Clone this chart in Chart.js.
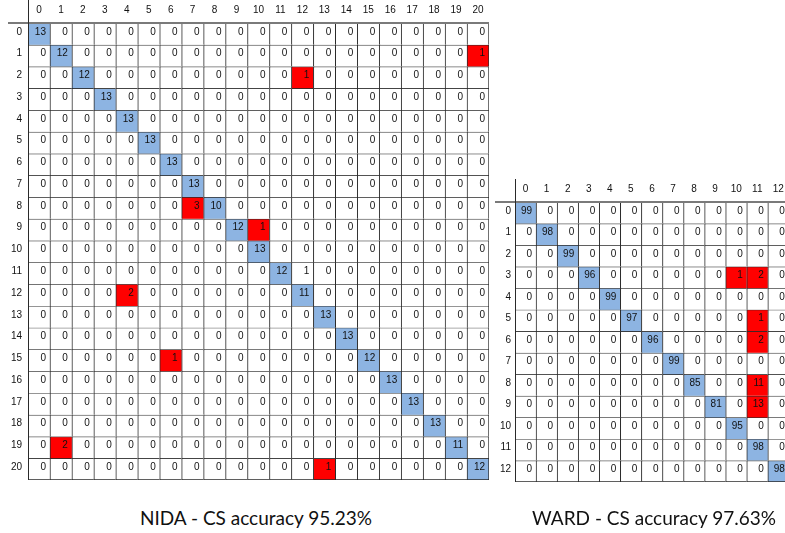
<!DOCTYPE html>
<html>
<head>
<meta charset="utf-8">
<script src="https://cdn.jsdelivr.net/npm/chart.js@4.4.0/dist/chart.umd.min.js"></script>
<style>
  html, body { margin: 0; padding: 0; background: #fff; overflow: hidden; }
  body { width: 785px; height: 533px; position: relative; }
  canvas { position: absolute; }
  #nida { left: 0; top: 0; }
  #ward { left: 490px; top: 179px; }
  .caption {
    position: absolute; font-family: Lato, sans-serif; font-size: 19px;
    line-height: 19px; color: #111; white-space: nowrap; text-align: center;
  }
</style>
</head>
<body>
<canvas id="nida" width="491" height="492"></canvas>
<canvas id="ward" width="301" height="313"></canvas>
<div class="caption" style="left: 106px; top: 508px; width: 300px;">NIDA - CS accuracy 95.23%</div>
<div class="caption" style="left: 504px; top: 508px; width: 300px;">WARD - CS accuracy 97.63%</div>
<script>
// class labels
var nidaLabels = ['0','1','2','3','4','5','6','7','8','9','10','11','12','13','14','15','16','17','18','19','20'];
var wardLabels = ['0','1','2','3','4','5','6','7','8','9','10','11','12'];

// confusion matrices, one row per true class
var nidaMatrix = [
  [13,0,0,0,0,0,0,0,0,0,0,0,0,0,0,0,0,0,0,0,0],
  [0,12,0,0,0,0,0,0,0,0,0,0,0,0,0,0,0,0,0,0,1],
  [0,0,12,0,0,0,0,0,0,0,0,0,1,0,0,0,0,0,0,0,0],
  [0,0,0,13,0,0,0,0,0,0,0,0,0,0,0,0,0,0,0,0,0],
  [0,0,0,0,13,0,0,0,0,0,0,0,0,0,0,0,0,0,0,0,0],
  [0,0,0,0,0,13,0,0,0,0,0,0,0,0,0,0,0,0,0,0,0],
  [0,0,0,0,0,0,13,0,0,0,0,0,0,0,0,0,0,0,0,0,0],
  [0,0,0,0,0,0,0,13,0,0,0,0,0,0,0,0,0,0,0,0,0],
  [0,0,0,0,0,0,0,3,10,0,0,0,0,0,0,0,0,0,0,0,0],
  [0,0,0,0,0,0,0,0,0,12,1,0,0,0,0,0,0,0,0,0,0],
  [0,0,0,0,0,0,0,0,0,0,13,0,0,0,0,0,0,0,0,0,0],
  [0,0,0,0,0,0,0,0,0,0,0,12,1,0,0,0,0,0,0,0,0],
  [0,0,0,0,2,0,0,0,0,0,0,0,11,0,0,0,0,0,0,0,0],
  [0,0,0,0,0,0,0,0,0,0,0,0,0,13,0,0,0,0,0,0,0],
  [0,0,0,0,0,0,0,0,0,0,0,0,0,0,13,0,0,0,0,0,0],
  [0,0,0,0,0,0,1,0,0,0,0,0,0,0,0,12,0,0,0,0,0],
  [0,0,0,0,0,0,0,0,0,0,0,0,0,0,0,0,13,0,0,0,0],
  [0,0,0,0,0,0,0,0,0,0,0,0,0,0,0,0,0,13,0,0,0],
  [0,0,0,0,0,0,0,0,0,0,0,0,0,0,0,0,0,0,13,0,0],
  [0,2,0,0,0,0,0,0,0,0,0,0,0,0,0,0,0,0,0,11,0],
  [0,0,0,0,0,0,0,0,0,0,0,0,0,1,0,0,0,0,0,0,12]
];
var wardMatrix = [
  [99,0,0,0,0,0,0,0,0,0,0,0,0],
  [0,98,0,0,0,0,0,0,0,0,0,0,0],
  [0,0,99,0,0,0,0,0,0,0,0,0,0],
  [0,0,0,96,0,0,0,0,0,0,1,2,0],
  [0,0,0,0,99,0,0,0,0,0,0,0,0],
  [0,0,0,0,0,97,0,0,0,0,0,1,0],
  [0,0,0,0,0,0,96,0,0,0,0,2,0],
  [0,0,0,0,0,0,0,99,0,0,0,0,0],
  [0,0,0,0,0,0,0,0,85,0,0,11,0],
  [0,0,0,0,0,0,0,0,0,81,0,13,0],
  [0,0,0,0,0,0,0,0,0,0,95,0,0],
  [0,0,0,0,0,0,0,0,0,0,0,98,0],
  [0,0,0,0,0,0,0,0,0,0,0,0,98]
];
// off-diagonal cells left uncoloured in the source ([row, col])
var nidaPlain = [[11, 12]];
var wardPlain = [];

var BLUE = '#8db4e2';
var RED = '#ff0000';
var LINE = '#2a2a2a';
var FONT = '"Liberation Sans", Arial, sans-serif';

function cellColor(matrix, plain, r, c) {
  if (r === c) return BLUE;
  if (matrix[r][c] === 0) return '#ffffff';
  for (var i = 0; i < plain.length; i++) {
    if (plain[i][0] === r && plain[i][1] === c) return '#ffffff';
  }
  return RED;
}

// draws the counts inside the cells and the header rules
var cellText = {
  id: 'cellText',
  afterDatasetsDraw: function (chart, args, opts) {
    var ctx = chart.ctx, xs = chart.scales.x, ys = chart.scales.y;
    var area = chart.chartArea;
    var m = opts.matrix;
    var half = (xs.getPixelForValue(1) - xs.getPixelForValue(0)) / 2;
    ctx.save();
    ctx.font = '10px ' + FONT;
    ctx.fillStyle = '#111';
    ctx.textAlign = 'right';
    ctx.textBaseline = 'middle';
    for (var r = 0; r < m.length; r++) {
      for (var c = 0; c < m[r].length; c++) {
        var x = xs.getPixelForValue(c) + half - 4;
        var y = ys.getPixelForValue(r) - 2;
        ctx.fillText(String(m[r][c]), x, y);
      }
    }
    // header rules
    ctx.strokeStyle = '#7a7a7a';
    ctx.lineWidth = 2;
    ctx.beginPath();
    ctx.moveTo(area.left - 20, area.top);
    ctx.lineTo(area.right, area.top);
    ctx.stroke();
    ctx.strokeStyle = LINE;
    ctx.lineWidth = 1;
    ctx.beginPath();
    ctx.moveTo(area.left + 0.5, 0);
    ctx.lineTo(area.left + 0.5, area.bottom);
    ctx.stroke();
    ctx.restore();
  }
};

function makeMatrix(id, labels, matrix, plain, yWidth) {
  var n = labels.length;
  var datasets = matrix.map(function (row, r) {
    return {
      label: labels[r],
      data: row.map(function () { return [r - 0.5, r + 0.5]; }),
      backgroundColor: row.map(function (v, c) { return cellColor(matrix, plain, r, c); }),
      borderColor: LINE,
      borderSkipped: false,
      borderWidth: function (ctx) {
        var c = ctx.dataIndex;
        return { top: 1, left: 1, right: c === n - 1 ? 1 : 0, bottom: r === n - 1 ? 1 : 0 };
      },
      grouped: false,
      categoryPercentage: 1,
      barPercentage: 1
    };
  });

  return new Chart(document.getElementById(id).getContext('2d'), {
    type: 'bar',
    data: { labels: labels, datasets: datasets },
    options: {
      responsive: false,
      animation: false,
      events: [],
      layout: { padding: { left: 0, top: 0, right: 2, bottom: 2 } },
      plugins: {
        legend: { display: false },
        tooltip: { enabled: false },
        cellText: { matrix: matrix }
      },
      scales: {
        x: {
          position: 'top',
          grid: { display: false, drawTicks: false },
          border: { display: false },
          ticks: { color: '#111', font: { family: FONT, size: 10 }, padding: 7, maxRotation: 0, autoSkip: false },
          afterFit: function (s) { s.height = 23; }
        },
        y: {
          type: 'linear',
          reverse: true,
          min: -0.5,
          max: n - 0.5,
          grid: { display: false, drawTicks: false },
          border: { display: false },
          afterBuildTicks: function (s) {
            s.ticks = labels.map(function (l, i) { return { value: i }; });
          },
          ticks: {
            color: '#111',
            font: { family: FONT, size: 10 },
            padding: yWidth === 28 ? 6 : 4,
            labelOffset: -2,
            callback: function (v) { return labels[v]; }
          },
          afterFit: function (s) { s.width = yWidth; }
        }
      }
    },
    plugins: [cellText]
  });
}

makeMatrix('nida', nidaLabels, nidaMatrix, nidaPlain, 28);
makeMatrix('ward', wardLabels, wardMatrix, wardPlain, 25);
</script>
</body>
</html>
